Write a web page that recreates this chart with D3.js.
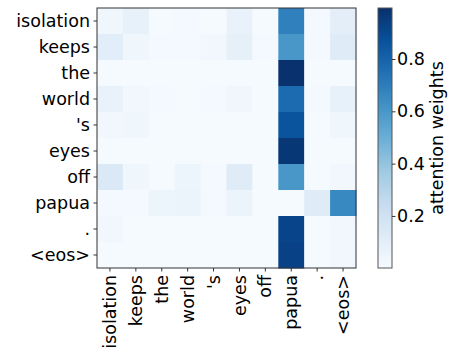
<!DOCTYPE html>
<html>
<head>
<meta charset="utf-8">
<script src="https://cdn.jsdelivr.net/npm/d3@7"></script>
<style>
  html, body { margin: 0; padding: 0; background: #fff; }
  svg { display: block; }
  text { font-family: "DejaVu Sans", sans-serif; fill: #000; }
</style>
</head>
<body>
<svg id="chart" width="452" height="359"></svg>
<script>
// Source tokens (columns) and target tokens (rows)
const sourceTokens = ["isolation", "keeps", "the", "world", "'s", "eyes", "off", "papua", ".", "<eos>"];
const targetTokens = ["isolation", "keeps", "the", "world", "'s", "eyes", "off", "papua", ".", "<eos>"];

// Attention weights, one row per target token
const rowIsolation = [0.04, 0.08, 0.01, 0.02, 0.01, 0.07, 0.01, 0.69, 0.02, 0.10];
const rowKeeps     = [0.11, 0.04, 0.02, 0.02, 0.03, 0.09, 0.02, 0.60, 0.02, 0.12];
const rowThe       = [0.01, 0.01, 0.01, 0.01, 0.01, 0.01, 0.01, 0.99, 0.01, 0.01];
const rowWorld     = [0.07, 0.03, 0.02, 0.01, 0.02, 0.04, 0.01, 0.77, 0.02, 0.08];
const rowS         = [0.03, 0.04, 0.01, 0.01, 0.01, 0.01, 0.01, 0.86, 0.01, 0.04];
const rowEyes      = [0.01, 0.01, 0.01, 0.01, 0.01, 0.01, 0.01, 0.97, 0.01, 0.01];
const rowOff       = [0.14, 0.04, 0.01, 0.05, 0.02, 0.12, 0.01, 0.60, 0.01, 0.03];
const rowPapua     = [0.02, 0.02, 0.05, 0.06, 0.02, 0.06, 0.01, 0.01, 0.12, 0.66];
const rowPeriod    = [0.03, 0.01, 0.01, 0.01, 0.01, 0.01, 0.01, 0.92, 0.01, 0.03];
const rowEos       = [0.01, 0.01, 0.01, 0.01, 0.01, 0.01, 0.01, 0.93, 0.01, 0.03];
const weights = [rowIsolation, rowKeeps, rowThe, rowWorld, rowS, rowEyes, rowOff, rowPapua, rowPeriod, rowEos];

const colorbarTicks = [0.2, 0.4, 0.6, 0.8];
const vmin = 0.001, vmax = 0.995;

// Blues colormap as a piecewise-linear ramp over the nine ColorBrewer stops
const bluesStops = ["#f7fbff", "#deebf7", "#c6dbef", "#9ecae1", "#6baed6", "#4292c6", "#2171b5", "#08519c", "#08306b"];
const blues = d3.scaleLinear()
  .domain(d3.range(9).map(i => i / 8))
  .range(bluesStops)
  .interpolate(d3.interpolateRgb)
  .clamp(true);
const norm = d3.scaleLinear().domain([vmin, vmax]).clamp(true);
const color = v => blues(norm(v));

const svg = d3.select("#chart");
const plot = { left: 97, top: 8, width: 259, height: 260 };

const x = d3.scaleBand().domain(sourceTokens.map((d, i) => i)).range([plot.left, plot.left + plot.width]);
const y = d3.scaleBand().domain(targetTokens.map((d, i) => i)).range([plot.top, plot.top + plot.height]);

const cells = [];
weights.forEach((row, r) => row.forEach((v, c) => cells.push({ r, c, v })));

svg.append("g").selectAll("rect").data(cells).join("rect")
  .attr("x", d => x(d.c))
  .attr("y", d => y(d.r))
  .attr("width", x.bandwidth() + 0.5)
  .attr("height", y.bandwidth() + 0.5)
  .attr("fill", d => color(d.v));

// frame
svg.append("rect")
  .attr("x", plot.left).attr("y", plot.top)
  .attr("width", plot.width).attr("height", plot.height)
  .attr("fill", "none").attr("stroke", "#333").attr("stroke-width", 1);

const fontSize = 17.5;

// Y axis
const yAxis = svg.append("g").attr("transform", `translate(${plot.left},0)`)
  .call(d3.axisLeft(y).tickSize(3.5).tickPadding(3.5).tickFormat(i => targetTokens[i]));
yAxis.select(".domain").remove();
yAxis.selectAll("line").attr("stroke", "#333");
yAxis.selectAll("text").style("font-size", fontSize + "px").attr("fill", "#000")
  .style("font-family", "'DejaVu Sans', sans-serif");

// X axis with vertical labels
const xAxis = svg.append("g").attr("transform", `translate(0,${plot.top + plot.height})`)
  .call(d3.axisBottom(x).tickSize(3.5).tickPadding(3.5).tickFormat(i => sourceTokens[i]));
xAxis.select(".domain").remove();
xAxis.selectAll("line").attr("stroke", "#333");
xAxis.selectAll("text")
  .style("font-size", fontSize + "px").attr("fill", "#000")
  .style("font-family", "'DejaVu Sans', sans-serif")
  .attr("text-anchor", "end")
  .attr("dy", "0.35em")
  .attr("y", 0)
  .attr("transform", "translate(0,7) rotate(-90)");

// Colorbar
const cb = { left: 378, top: 8, width: 14, height: 260 };
const defs = svg.append("defs");
const grad = defs.append("linearGradient").attr("id", "cbgrad")
  .attr("x1", 0).attr("y1", 1).attr("x2", 0).attr("y2", 0);
d3.range(0, 1.0001, 0.02).forEach(t => {
  grad.append("stop").attr("offset", t).attr("stop-color", blues(t));
});
svg.append("rect")
  .attr("x", cb.left).attr("y", cb.top)
  .attr("width", cb.width).attr("height", cb.height)
  .attr("fill", "url(#cbgrad)")
  .attr("stroke", "#555").attr("stroke-width", 1);

const cbScale = d3.scaleLinear().domain([vmin, vmax]).range([cb.top + cb.height, cb.top]);
const cbAxis = svg.append("g").attr("transform", `translate(${cb.left + cb.width},0)`)
  .call(d3.axisRight(cbScale).tickValues(colorbarTicks).tickSize(3.5).tickPadding(1.5).tickFormat(d3.format(".1f")));
cbAxis.select(".domain").remove();
cbAxis.selectAll("line").attr("stroke", "#333");
cbAxis.selectAll("text").style("font-size", fontSize + "px").attr("fill", "#000")
  .style("font-family", "'DejaVu Sans', sans-serif");

svg.append("text")
  .attr("transform", `translate(437,${cb.top + cb.height / 2}) rotate(-90)`)
  .attr("text-anchor", "middle")
  .attr("dy", "0.35em")
  .style("font-size", fontSize + "px")
  .text("attention weights");
</script>
</body>
</html>
